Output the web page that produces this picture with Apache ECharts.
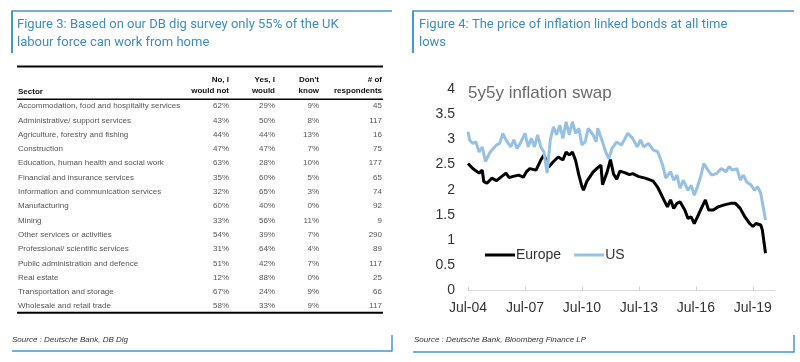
<!DOCTYPE html>
<html><head><meta charset="utf-8">
<script src="https://cdn.jsdelivr.net/npm/echarts@6/dist/echarts.min.js"></script>
<style>html,body{margin:0;padding:0;background:#fff}#c{width:800px;height:362px}</style>
</head><body><div id="c"></div>
<script>
// ---------- Table data (Figure 3) ----------
const tableHeaders = ['Sector', 'No, I\nwould not', 'Yes, I\nwould', "Don't\nknow", '# of\nrespondents'];
const sectors = [
  'Accommodation, food and hospitality services',
  'Administrative/ support services',
  'Agriculture, forestry and fishing',
  'Construction',
  'Education, human health and social work',
  'Financial and insurance services',
  'Information and communication services',
  'Manufacturing',
  'Mining',
  'Other services or activities',
  'Professional/ scientific services',
  'Public administration and defence',
  'Real estate',
  'Transportation and storage',
  'Wholesale and retail trade'
];
const noWould     = [62, 43, 44, 47, 63, 35, 32, 60, 33, 54, 31, 51, 12, 67, 58];
const yesWould    = [29, 50, 44, 47, 28, 60, 65, 40, 56, 39, 64, 42, 88, 24, 33];
const dontKnow    = [9, 8, 13, 7, 10, 5, 3, 0, 11, 7, 4, 7, 0, 9, 9];
const respondents = [45, 117, 16, 75, 177, 65, 74, 92, 9, 290, 89, 117, 25, 66, 117];

// ---------- Line chart data (Figure 4) ----------
const xTickLabels = ['Jul-04', 'Jul-07', 'Jul-10', 'Jul-13', 'Jul-16', 'Jul-19'];
const europeDates = ['2004-07','2004-10','2005-02','2005-04','2005-05','2005-07','2005-10','2006-01','2006-03','2006-07','2006-09','2006-11',
  '2007-03','2007-06','2007-08','2007-10','2008-02','2008-05','2008-07','2008-10','2009-01','2009-04','2009-07','2009-09','2009-11',
  '2010-01','2010-03','2010-05','2010-07','2010-08','2010-10','2011-02','2011-05','2011-07','2011-08','2011-11','2012-01','2012-03',
  '2012-05','2012-07','2012-10','2013-01','2013-03','2013-07','2013-11','2014-04','2014-07','2014-10','2015-01','2015-03','2015-05',
  '2015-07','2015-09','2015-12','2016-02','2016-04','2016-06','2016-08','2016-10','2017-01','2017-03','2017-06','2017-09','2018-01',
  '2018-05','2018-08','2018-11','2019-02','2019-05','2019-07','2019-09','2019-12','2020-01','2020-03'];
const europeValues = [2.52,2.42,2.33,2.39,2.16,2.13,2.23,2.18,2.23,2.33,2.24,2.26,
  2.29,2.25,2.36,2.42,2.39,2.59,2.69,2.45,2.56,2.65,2.59,2.75,2.69,
  2.75,2.58,2.30,2.06,1.99,2.16,2.35,2.44,2.49,2.10,2.36,2.60,2.31,
  2.21,2.37,2.34,2.30,2.32,2.26,2.23,2.17,2.04,1.85,1.66,1.80,1.63,
  1.73,1.76,1.60,1.43,1.46,1.33,1.46,1.60,1.80,1.60,1.60,1.66,1.70,
  1.73,1.73,1.63,1.46,1.33,1.27,1.33,1.30,1.20,0.74];
const usDates = ['2004-07','2004-08','2004-10','2004-12','2005-02','2005-04','2005-06','2005-09','2006-01','2006-03','2006-05','2006-07',
  '2006-10','2006-12','2007-02','2007-04','2007-07','2007-09','2007-11','2008-01','2008-03','2008-05','2008-07','2008-09','2008-11',
  '2009-01','2009-03','2009-05','2009-07','2009-09','2009-11','2010-01','2010-03','2010-05','2010-07','2010-09','2010-11','2011-02',
  '2011-04','2011-05','2011-08','2011-10','2011-12','2012-02','2012-05','2012-08','2012-12','2013-03','2013-06','2013-08','2013-10',
  '2014-01','2014-04','2014-07','2014-10','2014-12','2015-01','2015-03','2015-05','2015-07','2015-09','2015-11','2016-02','2016-04',
  '2016-06','2016-08','2016-10','2016-12','2017-02','2017-05','2017-08','2017-11','2018-02','2018-04','2018-06','2018-09','2018-11',
  '2019-01','2019-03','2019-06','2019-08','2019-10','2019-12','2020-03'];
const usValues = [3.15,2.99,2.92,2.95,2.75,2.85,2.56,2.75,2.89,2.92,3.12,2.99,
  2.85,2.99,2.82,2.92,3.12,2.85,3.02,2.85,3.09,2.85,2.75,2.33,2.99,
  3.25,3.09,3.28,3.02,3.35,3.09,3.35,3.12,3.22,2.89,2.95,3.22,3.09,
  2.95,3.22,2.95,2.75,2.62,2.82,2.95,2.89,3.12,3.02,2.85,2.99,2.85,
  2.92,2.79,2.75,2.49,2.23,2.26,2.36,2.19,2.29,2.03,2.19,1.99,2.09,
  1.89,2.06,2.26,2.52,2.42,2.29,2.32,2.42,2.36,2.46,2.39,2.42,2.19,
  2.29,2.16,2.09,1.99,2.06,1.93,1.40];

// months since Jul-2004
function monthIndex(d) { const [y, m] = d.split('-').map(Number); return (y - 2004) * 12 + (m - 7); }
const europeData = europeDates.map((d, i) => [monthIndex(d), europeValues[i]]);
const usData = usDates.map((d, i) => [monthIndex(d), usValues[i]]);

const FRAME = '#4596d2', TITLE = '#3d8cbf';
const SANS = 'Liberation Sans, Arial, sans-serif';
const TFONT = 'Roboto, Liberation Sans, sans-serif';

const g = [];
function line(x1, y1, x2, y2, color, w) {
  g.push({ type: 'line', shape: { x1, y1, x2, y2 }, style: { stroke: color, lineWidth: w }, silent: true });
}
function text(x, y, t, opts) {
  g.push(Object.assign({ type: 'text', x, y, silent: true,
    style: Object.assign({ text: t, fill: '#444', font: '8px ' + SANS, textAlign: 'left', textVerticalAlign: 'middle' }, opts || {}) }));
}
// frames
line(12, 11, 392, 11, FRAME, 1.5); line(12, 10.5, 12, 53, FRAME, 2);
line(12, 351, 392, 351, FRAME, 1.5); line(392, 335, 392, 351.5, FRAME, 1.5);
line(413, 11, 794, 11, FRAME, 1.5); line(413, 10.5, 413, 53, FRAME, 2);
line(413, 352, 794, 352, FRAME, 1.5); line(794, 335, 794, 352.5, FRAME, 1.5);
// titles
text(17, 34, 'Figure 3: Based on our DB dig survey only 55% of the UK\nlabour force can work from home',
  { fill: TITLE, font: '13px ' + TFONT, lineHeight: 18 });
text(419, 34, 'Figure 4: The price of inflation linked bonds at all time\nlows',
  { fill: TITLE, font: '13px ' + TFONT, lineHeight: 18 });
// sources
text(12, 340, 'Source : Deutsche Bank, DB Dig', { fill: '#333', font: 'italic 8px ' + SANS });
text(414, 340, 'Source : Deutsche Bank, Bloomberg Finance LP', { fill: '#333', font: 'italic 8px ' + SANS });
// table
const colX = [229, 275, 319, 382];
line(17, 66.5, 383, 66.5, '#000', 2);
line(17, 99.3, 383, 99.3, '#000', 1.5);
line(17, 312.7, 383, 312.7, '#000', 2);
text(18, 91.7, tableHeaders[0], { fill: '#111', font: 'bold 8px ' + SANS });
for (let c = 1; c < tableHeaders.length; c++) {
  text(colX[c - 1], 85.5, tableHeaders[c], { fill: '#111', font: 'bold 8px ' + SANS, textAlign: 'right', lineHeight: 10.5 });
}
sectors.forEach((s, i) => {
  const y = 106 + i * 14.3;
  text(18, y, s, { fill: '#555' });
  const vals = [noWould[i] + '%', yesWould[i] + '%', dontKnow[i] + '%', String(respondents[i])];
  vals.forEach((v, k) => text(colX[k], y, v, { fill: '#555', textAlign: 'right' }));
});
// chart title
text(468, 93, '5y5y inflation swap', { fill: '#6a6a6a', font: '17px ' + SANS });

const chart = echarts.init(document.getElementById('c'), null, { renderer: 'canvas' });
chart.setOption({
  animation: false,
  backgroundColor: '#fff',
  grid: { left: 468, right: 25, top: 89, bottom: 71.5, containLabel: false },
  legend: {
    left: 480, top: 243, itemWidth: 30, itemHeight: 3, itemGap: 13,
    textStyle: { fontSize: 14, color: '#333', fontFamily: SANS, padding: [0, 0, 0, -4] },
    data: [{ name: 'Europe', icon: 'rect' }, { name: 'US', icon: 'rect' }]
  },
  xAxis: {
    type: 'value', min: 0, max: 194, interval: 36,
    axisLine: { show: true, lineStyle: { color: '#d9d9d9', width: 1 } },
    axisTick: { show: true, inside: true, length: 4, lineStyle: { color: '#d0d0d0' }, customValues: [0, 36, 72, 108, 144, 180] },
    axisLabel: { margin: 11, fontSize: 14, color: '#333', fontFamily: SANS,
      customValues: [0, 36, 72, 108, 144, 180], formatter: v => xTickLabels[Math.round(v / 36)] },
    splitLine: { show: false }
  },
  yAxis: {
    type: 'value', min: 0, max: 4, interval: 0.5,
    axisLine: { show: false }, axisTick: { show: false }, splitLine: { show: false },
    axisLabel: { margin: 13, fontSize: 14, color: '#333', fontFamily: SANS }
  },
  series: [
    { name: 'Europe', type: 'line', data: europeData, symbol: 'none', lineStyle: { color: '#000', width: 3 }, itemStyle: { color: '#000' } },
    { name: 'US', type: 'line', data: usData, symbol: 'none', lineStyle: { color: '#97c1e4', width: 3 }, itemStyle: { color: '#97c1e4' } }
  ],
  graphic: { elements: g }
});
</script></body></html>
